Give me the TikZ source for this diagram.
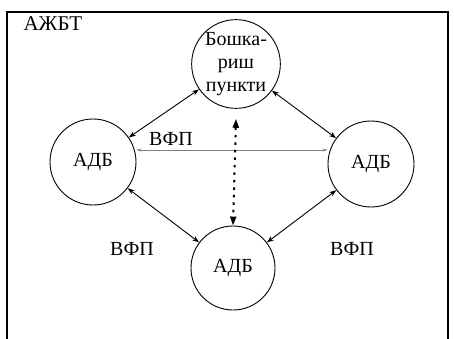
\documentclass[tikz,border=0pt]{standalone}
\usepackage{fontspec}
\setmainfont{Liberation Serif}
\usetikzlibrary{arrows.meta}
\begin{document}
\begin{tikzpicture}[x=1pt,y=-1pt,
  unit/.style={draw,circle,line width=0.9pt,minimum size=86pt,inner sep=0pt,font=\fontsize{20}{20}\selectfont},
  link/.style={line width=0.9pt,{Stealth[length=7pt,width=5pt]}-{Stealth[length=7pt,width=5pt]}},
  lbl/.style={font=\fontsize{20}{20}\selectfont}]
\useasboundingbox (0,0) rectangle (454,339);
\draw[line width=1.1pt] (7,345) -- (7,12) -- (448,12) -- (448,345);
\node[lbl,anchor=west,font=\fontsize{21}{21}\selectfont] (title) at (20,24) {АЖБТ};
\node[unit,align=center,font=\fontsize{20}{23}\selectfont] (top) at (236,64) {Бошка-\\риш\\пункти};
\node[unit] (left) at (93,162) {АДБ};
\node[unit] (right) at (371,164) {АДБ};
\node[unit,minimum size=84pt] (bot) at (233,268) {АДБ};
\draw[link] (left) -- (top);
\draw[link] (top) -- (right);
\draw[link] (left) -- (bot);
\draw[link] (right) -- (bot);
\draw[line width=0.6pt,gray,{Stealth[length=5pt,width=3pt]}-{Stealth[length=5pt,width=3pt]}] (left.east|-0,150) coordinate (hl) -- (right.west|-0,150) coordinate (hr);
\draw[line width=2pt,dash pattern=on 2.5pt off 5pt,{Triangle[length=9pt,width=6pt]}-{Triangle[length=9pt,width=6pt]}] (top.south) ++(0,10) coordinate (va) -- (bot.north) coordinate (vb);
\node[lbl] (v1) at (171,139) {ВФП};
\node[lbl] (v2) at (132,249) {ВФП};
\node[lbl] (v3) at (352,249) {ВФП};
\end{tikzpicture}
\end{document}
